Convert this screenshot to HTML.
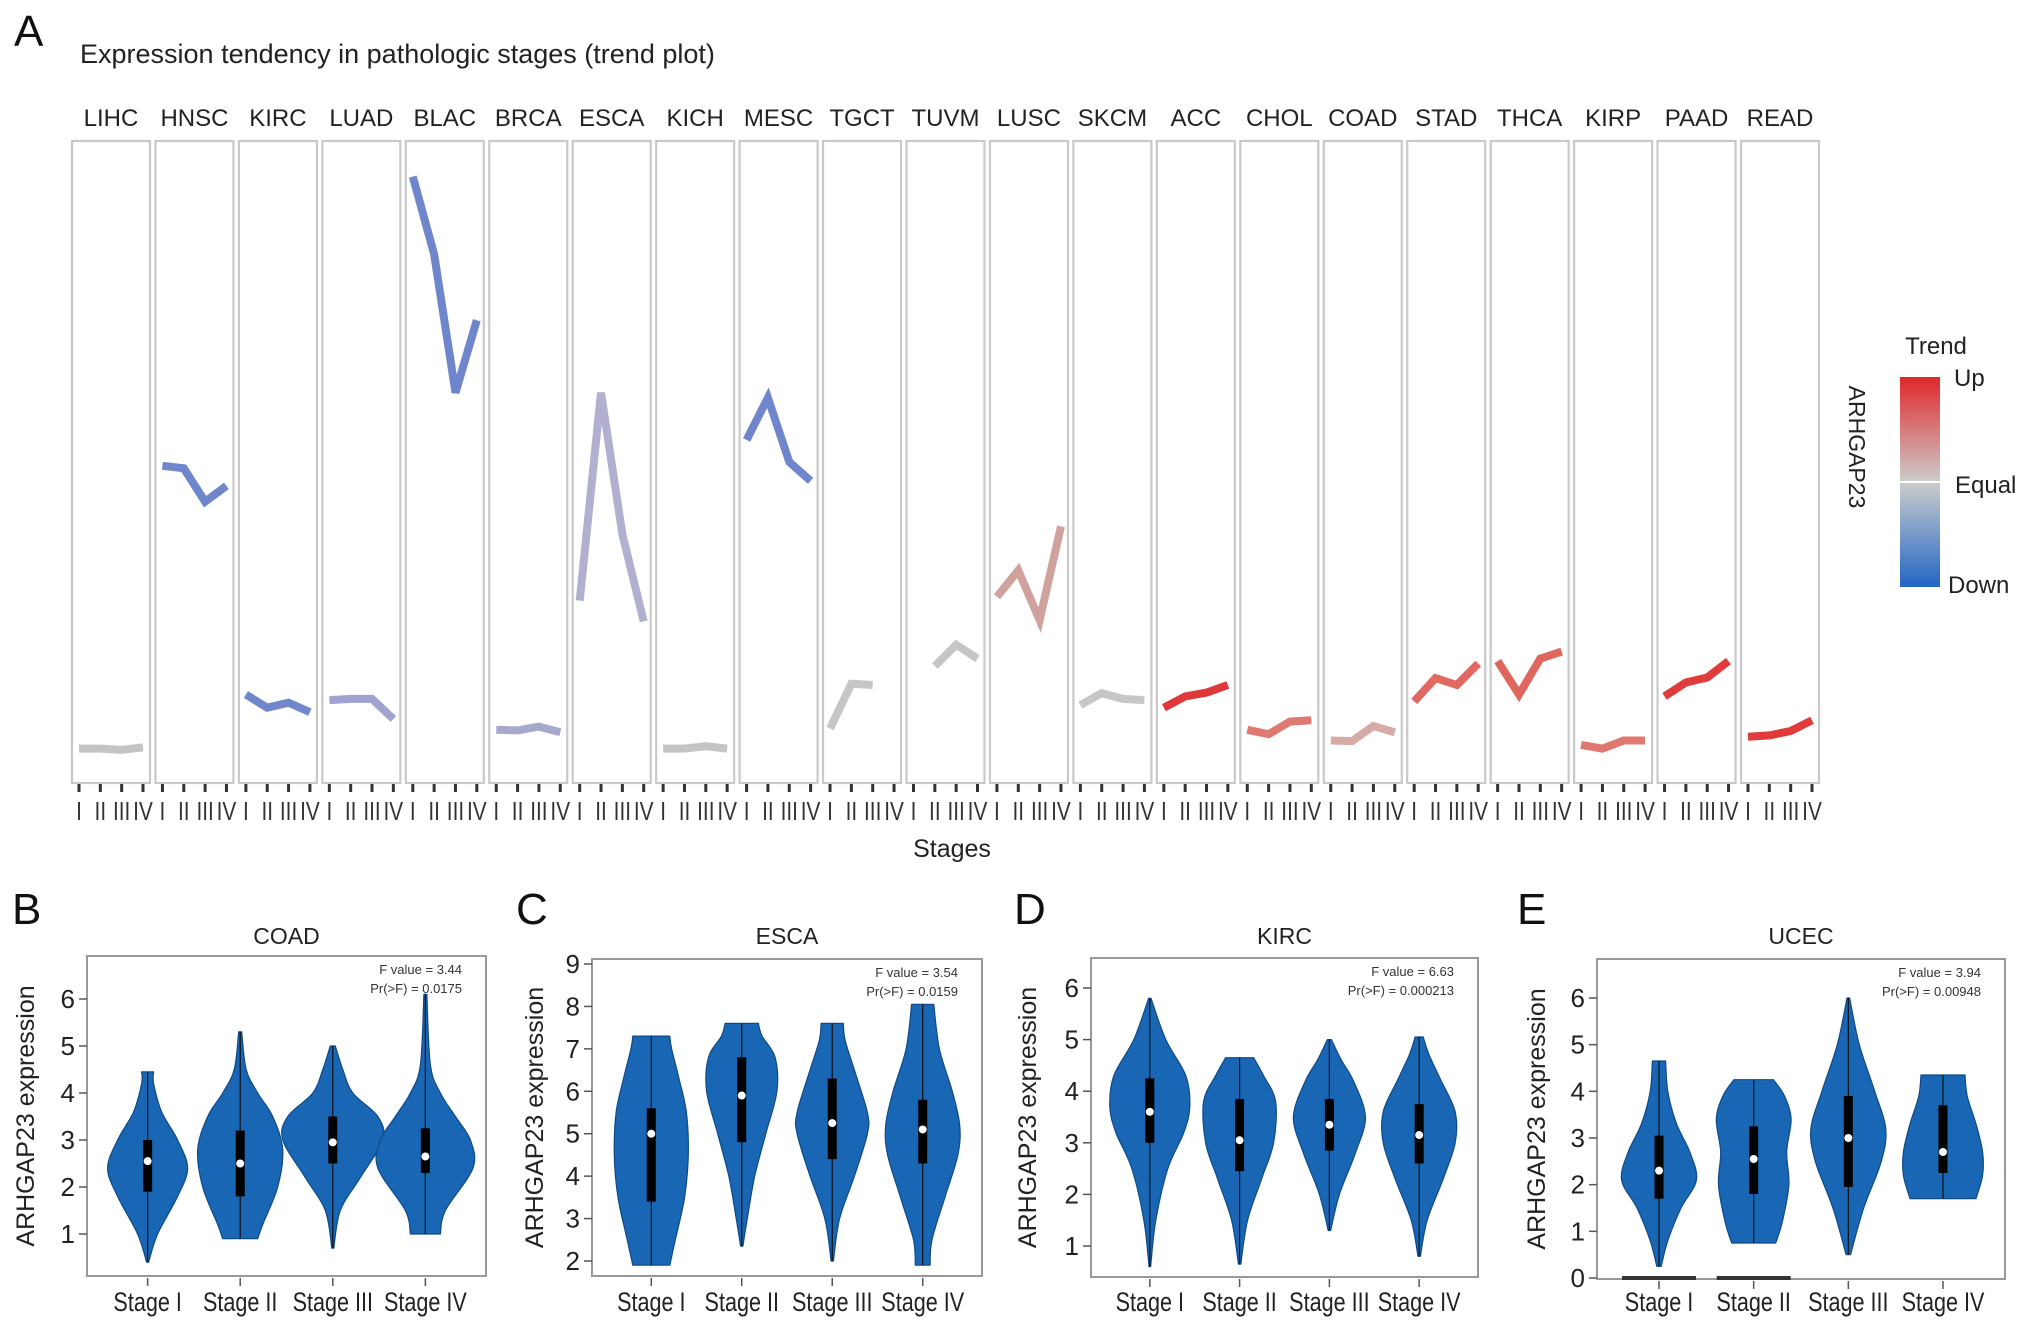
<!DOCTYPE html>
<html><head><meta charset="utf-8"><style>
html,body{margin:0;padding:0;background:#fff;}
svg{display:block;font-family:"Liberation Sans",Arial,sans-serif;}
</style></head><body>
<svg id="fig" width="2032" height="1333" viewBox="0 0 2032 1333" xmlns="http://www.w3.org/2000/svg">
<defs><linearGradient id="trendGrad" x1="0" y1="0" x2="0" y2="1">
<stop offset="0" stop-color="#e0282a"/><stop offset="0.5" stop-color="#cccccc"/><stop offset="1" stop-color="#2266c4"/></linearGradient></defs>
<text x="14" y="46" font-size="44" fill="#111">A</text>
<text x="80" y="63" font-size="27" fill="#222">Expression tendency in pathologic stages (trend plot)</text>
<g id="trend"></g>
<text x="952" y="857" font-size="25" fill="#222" text-anchor="middle">Stages</text>
<g>
<text x="1936" y="354" font-size="24" fill="#222" text-anchor="middle">Trend</text>
<rect x="1900" y="377" width="40" height="210" fill="url(#trendGrad)"/>
<line x1="1900" y1="482" x2="1940" y2="482" stroke="#fff" stroke-width="2"/>
<text x="1954" y="386" font-size="24" fill="#222">Up</text>
<text x="1955" y="493" font-size="24" fill="#222">Equal</text>
<text x="1948" y="593" font-size="24" fill="#222">Down</text>
<text x="0" y="0" font-size="23" fill="#222" text-anchor="middle" transform="translate(1849,447) rotate(90)">ARHGAP23</text>
</g>
<g id="violins"></g>
</svg>
<script>
const NS="http://www.w3.org/2000/svg";
function mk(tag,attrs,parent){const e=document.createElementNS(NS,tag);for(const k in attrs)e.setAttribute(k,attrs[k]);parent.appendChild(e);return e;}

// ---- Trend plot data ----
const cancers=["LIHC","HNSC","KIRC","LUAD","BLAC","BRCA","ESCA","KICH","MESC","TGCT","TUVM","LUSC","SKCM","ACC","CHOL","COAD","STAD","THCA","KIRP","PAAD","READ"];
const stageTicks=["I","II","III","IV"];
const trendValues=[
[4.5,4.5,4.3,4.7],[49.4,49,43.7,46.2],[13.1,11,11.8,10.3],[12.2,12.4,12.4,9.2],[95.3,83,61,72.5],
[7.5,7.4,8,7.1],[28,61,38.5,24.7],[4.5,4.5,4.9,4.5],[53.5,60.2,50,47],[7.7,14.8,14.6,null],
[null,17.6,21,18.8],[28.6,32.8,24.9,39.8],[11.4,13.3,12.4,12.2],[11,12.8,13.4,14.6],[7.5,6.8,8.8,9],
[5.8,5.7,8.1,7.1],[12,15.7,14.6,18],[18.4,13.1,18.8,19.9],[5.1,4.5,5.8,5.8],[12.8,15,15.8,18.4],[6.4,6.6,7.3,9]];
const trendColors=["#c4c4c4","#6f86cc","#7286cc","#a0a3d0","#6f86cc","#a8a8cc","#b1b1cf","#c4c4c4","#6f86cc","#c6c6c6",
"#c6c6c6","#cfa29e","#c6c6c6","#e0383a","#df7a72","#d6aaa5","#e06a62","#e0665e","#e07870","#e03c3c","#e03a3a"];

const tg=document.getElementById('trend');
const pLeft=72,pTop=141,pBot=783,pitch=83.45,pW=78;
function px(i,k){return pLeft+i*pitch+7+k*(pW-14)/3;}
function py(v){return pBot-6-v/100*(pBot-pTop-12);}
cancers.forEach((c,i)=>{
  const x0=pLeft+i*pitch;
  const g=mk('g',{},tg);
  
  
  const t=mk('text',{x:x0+pW/2,y:126,'font-size':24,fill:'#222','text-anchor':'middle'},g);t.textContent=c;
  
  
  const r=mk('rect',{x:x0,y:pTop,width:pW,height:pBot-pTop,fill:'none',stroke:'#c9c9c9','stroke-width':2.2},g);
  
  
  stageTicks.forEach((s,k)=>{
    mk('line',{x1:px(i,k),y1:pBot+1,x2:px(i,k),y2:pBot+9,stroke:'#333','stroke-width':3},g);
    const tl=mk('text',{x:px(i,k),y:820,'font-size':26,fill:'#333','text-anchor':'middle',transform:`translate(${px(i,k)},0) scale(0.8,1) translate(${-px(i,k)},0)`},g);
    tl.textContent=s;
    
    
  });
  const pts=[];trendValues[i].forEach((v,k)=>{if(v!==null)pts.push(px(i,k).toFixed(1)+','+py(v).toFixed(1));});
  const pl=mk('polyline',{points:pts.join(' '),fill:'none',stroke:trendColors[i],'stroke-width':8,'stroke-linejoin':'miter'},g);
  
  
});

// ---- Violin data ----
const stageNames=["Stage I","Stage II","Stage III","Stage IV"];
const coadKnots=[
[[0.4,0.02],[1,0.2],[1.8,0.6],[2.4,0.8],[3,0.6],[3.6,0.28],[4.2,0.12],[4.45,0.12]],
[[0.9,0.35],[1.2,0.45],[2,0.75],[2.8,0.85],[3.5,0.65],[4,0.35],[4.5,0.12],[5.3,0.03]],
[[0.7,0.02],[1.5,0.15],[2.2,0.55],[3,1.0],[3.5,0.9],[4,0.4],[4.5,0.2],[5,0.05]],
[[1,0.3],[1.5,0.4],[2.4,0.95],[3,0.9],[3.5,0.6],[4,0.3],[4.6,0.1],[6.1,0.03]]];
const coadBox=[[1.9,2.55,3.0,0.4,4.45],[1.8,2.5,3.2,0.9,5.3],[2.5,2.95,3.5,0.7,5.0],[2.3,2.65,3.25,1.0,6.1]];
const escaKnots=[
[[1.9,0.5],[2.5,0.65],[3.5,0.9],[4.5,1],[5.5,0.95],[6.3,0.75],[7,0.55],[7.3,0.5]],
[[2.35,0.03],[3,0.15],[4,0.35],[5,0.65],[6,0.95],[6.8,0.9],[7.3,0.55],[7.6,0.45]],
[[2,0.03],[3,0.2],[4,0.6],[5,0.95],[5.5,0.95],[6.5,0.6],[7.2,0.35],[7.6,0.3]],
[[1.9,0.2],[2.5,0.25],[3.5,0.6],[4.5,0.95],[5.2,1],[6,0.8],[7,0.45],[8.05,0.3]]];
const escaBox=[[3.4,5.0,5.6,1.9,7.3],[4.8,5.9,6.8,2.35,7.6],[4.4,5.25,6.3,2.0,7.6],[4.3,5.1,5.8,1.9,8.05]];
const kircKnots=[
[[0.6,0.02],[1.5,0.15],[2.5,0.45],[3.2,0.85],[3.7,1],[4.3,0.9],[5,0.4],[5.8,0.03]],
[[0.65,0.03],[1.5,0.2],[2.3,0.55],[3,0.85],[3.8,0.9],[4.3,0.6],[4.65,0.35]],
[[1.3,0.03],[2,0.25],[2.8,0.65],[3.5,0.9],[4.2,0.6],[4.6,0.3],[5,0.05]],
[[0.8,0.03],[1.5,0.2],[2.3,0.6],[3,0.9],[3.6,0.9],[4.2,0.55],[4.7,0.25],[5.05,0.1]]];
const kircBox=[[3.0,3.6,4.25,0.6,5.8],[2.45,3.05,3.85,0.65,4.65],[2.85,3.35,3.85,1.3,5.0],[2.6,3.15,3.75,0.8,5.05]];
const ucecKnots=[
[[0.25,0.05],[0.8,0.2],[1.5,0.5],[2.1,0.85],[2.7,0.7],[3.3,0.4],[4,0.2],[4.65,0.15]],
[[0.75,0.5],[1.2,0.65],[2,0.8],[2.7,0.75],[3.4,0.85],[3.9,0.7],[4.25,0.45]],
[[0.5,0.05],[1.5,0.35],[2.5,0.75],[3.2,0.85],[4,0.6],[5,0.25],[6,0.03]],
[[1.7,0.75],[2.2,0.9],[2.7,0.9],[3.3,0.75],[3.9,0.55],[4.35,0.5]]];
const ucecBox=[[1.7,2.3,3.05,0.25,4.65],[1.8,2.55,3.25,0.75,4.25],[1.95,3.0,3.9,0.5,6.0],[2.25,2.7,3.7,1.7,4.35]];
const coadTicks=[1,2,3,4,5,6], escaTicks=[2,3,4,5,6,7,8,9], kircTicks=[1,2,3,4,5,6], ucecTicks=[0,1,2,3,4,5,6];

const panels=[
 {id:'b',letter:'B',lx:12,title:'COAD',knots:coadKnots,box:coadBox,ticks:coadTicks,F:'F value = 3.44',P:'Pr(>F) = 0.0175',
  bl:87,br:486,bt:956,bb:1276,v1:6,y1:999,v2:1,y2:1234,w:50,ylx:34,zeroBars:[]},
 {id:'c',letter:'C',lx:516,title:'ESCA',knots:escaKnots,box:escaBox,ticks:escaTicks,F:'F value = 3.54',P:'Pr(>F) = 0.0159',
  bl:592,br:982,bt:959,bb:1276,v1:9,y1:964,v2:2,y2:1261,w:37,ylx:543,zeroBars:[]},
 {id:'d',letter:'D',lx:1014,title:'KIRC',knots:kircKnots,box:kircBox,ticks:kircTicks,F:'F value = 6.63',P:'Pr(>F) = 0.000213',
  bl:1091,br:1478,bt:958,bb:1277,v1:6,y1:988,v2:1,y2:1246,w:40,ylx:1036,zeroBars:[]},
 {id:'e',letter:'E',lx:1517,title:'UCEC',knots:ucecKnots,box:ucecBox,ticks:ucecTicks,F:'F value = 3.94',P:'Pr(>F) = 0.00948',
  bl:1597,br:2005,bt:959,bb:1279,v1:6,y1:998,v2:0,y2:1278,w:44,ylx:1545,zeroBars:[0,1]}];

// Catmull-Rom smoothing through a side of points
function smoothSide(pts,first){
  let d=first?`M${pts[0][0].toFixed(1)},${pts[0][1].toFixed(1)}`:`L${pts[0][0].toFixed(1)},${pts[0][1].toFixed(1)}`;
  for(let i=0;i<pts.length-1;i++){
    const p0=pts[Math.max(0,i-1)],p1=pts[i],p2=pts[i+1],p3=pts[Math.min(pts.length-1,i+2)];
    const c1=[p1[0]+(p2[0]-p0[0])/6,p1[1]+(p2[1]-p0[1])/6];
    const c2=[p2[0]-(p3[0]-p1[0])/6,p2[1]-(p3[1]-p1[1])/6];
    d+=` C${c1[0].toFixed(1)},${c1[1].toFixed(1)} ${c2[0].toFixed(1)},${c2[1].toFixed(1)} ${p2[0].toFixed(1)},${p2[1].toFixed(1)}`;
  }
  return d;
}

const vg=document.getElementById('violins');
panels.forEach(p=>{
  const g=mk('g',{},vg);
  
  
  const Y=v=>p.y1+(v-p.v1)*(p.y2-p.y1)/(p.v2-p.v1);
  const cx=k=>p.bl+(p.br-p.bl)*(0.152+k*0.232);
  const L=mk('text',{x:p.lx,y:924,'font-size':44,fill:'#111'},g);L.textContent=p.letter;
  
  
  const T=mk('text',{x:(p.bl+p.br)/2,y:944,'font-size':23,fill:'#222','text-anchor':'middle'},g);T.textContent=p.title;
  
  
  const fr=mk('rect',{x:p.bl,y:p.bt,width:p.br-p.bl,height:p.bb-p.bt,fill:'none',stroke:'#999','stroke-width':2},g);
  
  
  p.ticks.forEach(v=>{
    mk('line',{x1:p.bl-8,y1:Y(v),x2:p.bl,y2:Y(v),stroke:'#555','stroke-width':1.5},g);
    const tt=mk('text',{x:p.bl-12,y:Y(v)+9,'font-size':26,fill:'#222','text-anchor':'end'},g);tt.textContent=v;
    
    
  });
  const yl=mk('text',{x:0,y:0,'font-size':25,fill:'#222','text-anchor':'middle',transform:`translate(${p.ylx},${(p.bt+p.bb)/2}) rotate(-90)`},g);
  yl.textContent='ARHGAP23 expression';
  
  
  const f1=mk('text',{x:p.br-24,y:p.bt+18,'font-size':13,fill:'#333','text-anchor':'end'},g);f1.textContent=p.F;
  
  
  const f2=mk('text',{x:p.br-24,y:p.bt+37,'font-size':13,fill:'#333','text-anchor':'end'},g);f2.textContent=p.P;
  
  
  p.zeroBars.forEach(k=>{
    const zb=mk('line',{x1:cx(k)-37,y1:Y(0),x2:cx(k)+37,y2:Y(0),stroke:'#333','stroke-width':4},g);
    
    
  });
  stageNames.forEach((s,k)=>{
    const c=cx(k);
    const kn=p.knots[k];
    const right=kn.map(([v,w])=>[c+w*p.w,Y(v)]);
    const left=kn.slice().reverse().map(([v,w])=>[c-w*p.w,Y(v)]);
    const d=smoothSide(right,true)+' '+smoothSide(left,false)+' Z';
    const vp=mk('path',{d:d,fill:'#1866b4',stroke:'#0f4a88','stroke-width':1.2,'stroke-linejoin':'round'},g);
    
    
    const b=p.box[k];
    mk('line',{x1:c,y1:Y(b[3]),x2:c,y2:Y(b[4]),stroke:'#111','stroke-width':1.2},g);
    const bx=mk('rect',{x:c-4.5,y:Y(b[2]),width:9,height:Y(b[0])-Y(b[2]),fill:'#000'},g);
    
    
    const md=mk('circle',{cx:c,cy:Y(b[1]),r:4,fill:'#fff'},g);
    
    
    mk('line',{x1:c,y1:p.bb+2,x2:c,y2:p.bb+10,stroke:'#555','stroke-width':1.5},g);
    const sl=mk('text',{x:c,y:1311,'font-size':27,fill:'#222','text-anchor':'middle',transform:`translate(${c},0) scale(0.8,1) translate(${-c},0)`},g);sl.textContent=s;
    
    
  });
});
</script>
</body></html>
